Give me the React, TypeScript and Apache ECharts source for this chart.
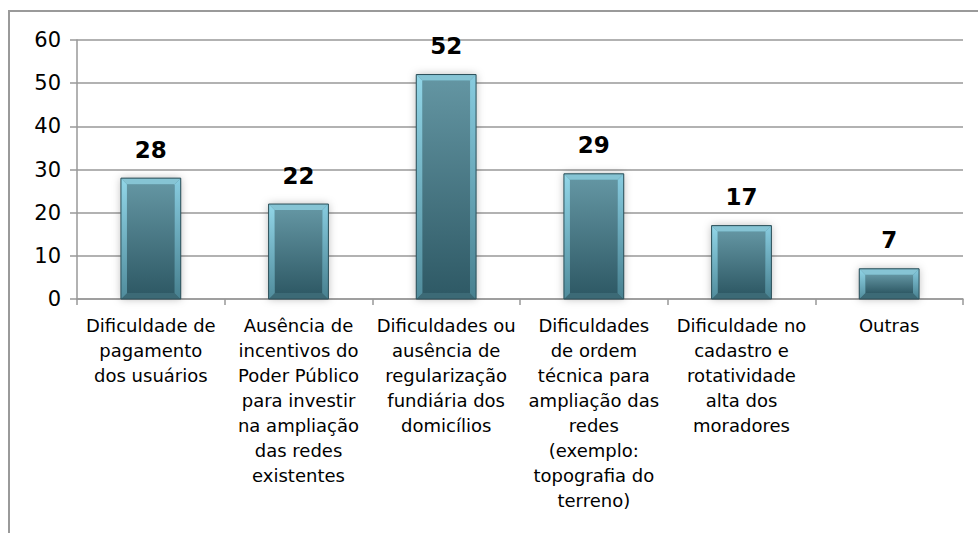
import React, { useEffect, useRef } from "react";
import * as echarts from "echarts";

const categories: string[] = [
  "Dificuldade de\npagamento\ndos usuários",
  "Ausência de\nincentivos do\nPoder Público\npara investir\nna ampliação\ndas redes\nexistentes",
  "Dificuldades ou\nausência de\nregularização\nfundiária dos\ndomicílios",
  "Dificuldades\nde ordem\ntécnica para\nampliação das\nredes\n(exemplo:\ntopografia do\nterreno)",
  "Dificuldade no\ncadastro e\nrotatividade\nalta dos\nmoradores",
  "Outras",
];
const values: number[] = [28, 22, 52, 29, 17, 7];
const yMin = 0;
const yMax = 60;
const yStep = 10;

const FONT = "'DejaVu Sans', 'Noto Sans', sans-serif";

export default function App() {
  const ref = useRef<HTMLDivElement>(null);
  useEffect(() => {
    if (!ref.current) return;
    const chart = echarts.init(ref.current, null, { renderer: "svg" });
    const renderItem = (params: any, api: any) => {
      const idx = api.value(0);
      const val = api.value(1);
      const top = api.coord([idx, val]);
      const bot = api.coord([idx, 0]);
      const cw = api.size([1, 0])[0];
      const w = cw * 0.405;
      const x0 = top[0] - w / 2;
      const x1 = x0 + w;
      const y0 = top[1];
      const y1 = bot[1];
      const h = y1 - y0;
      const b = Math.min(6, h / 3);
      return {
        type: "group",
        children: [
          {
            type: "rect",
            shape: { x: x0, y: y0, width: w, height: h },
            style: {
              fill: "#4f8795",
              shadowBlur: 8,
              shadowColor: "rgba(0,0,0,0.28)",
              shadowOffsetX: 0,
              shadowOffsetY: 0,
            },
          },
          {
            type: "rect",
            shape: { x: x0 + b, y: y0 + b, width: w - 2 * b, height: h - 2 * b },
            style: {
              fill: new echarts.graphic.LinearGradient(0, 0, 0, 1, [
                { offset: 0, color: "#6395a2" },
                { offset: 1, color: "#2f5a66" },
              ]),
            },
          },
          {
            type: "polygon",
            shape: { points: [[x0, y0], [x1, y0], [x1 - b, y0 + b], [x0 + b, y0 + b]] },
            style: { fill: "#86c4d4" },
          },
          {
            type: "polygon",
            shape: { points: [[x0, y1], [x1, y1], [x1 - b, y1 - b], [x0 + b, y1 - b]] },
            style: { fill: "#3c6a76" },
          },
          {
            type: "polygon",
            shape: { points: [[x0, y0], [x0 + b, y0 + b], [x0 + b, y1 - b], [x0, y1]] },
            style: {
              fill: new echarts.graphic.LinearGradient(0, 0, 0, 1, [
                { offset: 0, color: "#92d6e8" },
                { offset: 1, color: "#508c9c" },
              ]),
            },
          },
          {
            type: "polygon",
            shape: { points: [[x1, y0], [x1 - b, y0 + b], [x1 - b, y1 - b], [x1, y1]] },
            style: {
              fill: new echarts.graphic.LinearGradient(0, 0, 0, 1, [
                { offset: 0, color: "#88cce0" },
                { offset: 1, color: "#47808f" },
              ]),
            },
          },
          {
            type: "rect",
            shape: { x: x0, y: y0, width: w, height: h },
            style: { fill: "none", stroke: "#2c4f58", lineWidth: 1 },
          },
          {
            type: "text",
            x: top[0],
            y: y0 - 17,
            style: {
              text: String(val),
              fill: "#000",
              font: "bold 23px " + FONT,
              textAlign: "center",
              textVerticalAlign: "bottom",
            },
          },
        ],
      };
    };
    chart.setOption({
      animation: false,
      grid: { left: 67, top: 28, width: 886, height: 259, containLabel: false },
      xAxis: {
        type: "category",
        data: categories,
        axisLine: { show: true, lineStyle: { color: "#999", width: 1.5 } },
        axisTick: { show: true, length: 6, alignWithLabel: false, lineStyle: { color: "#999", width: 1.5 } },
        axisLabel: {
          interval: 0,
          hideOverlap: false,
          color: "#000",
          fontSize: 18,
          lineHeight: 25,
          fontFamily: FONT,
          margin: 14,
        },
      },
      yAxis: {
        type: "value",
        min: yMin,
        max: yMax,
        interval: yStep,
        axisLine: { show: true, lineStyle: { color: "#999", width: 1.5 } },
        axisTick: { show: true, length: 7, lineStyle: { color: "#999", width: 1.5 } },
        splitLine: { show: true, lineStyle: { color: "#999", width: 1.5 } },
        axisLabel: { color: "#000", fontSize: 21, fontFamily: FONT, margin: 16 },
      },
      series: [
        {
          type: "custom",
          renderItem,
          data: values.map((v, i) => [i, v]),
          encode: { x: 0, y: 1 },
        },
      ],
    });
    return () => chart.dispose();
  }, []);
  return (
    <div style={{ position: "fixed", left: 0, top: 0, width: 978, height: 533, overflow: "hidden", background: "#fff" }}>
      <div
        style={{
          position: "absolute",
          left: 8,
          top: 10,
          width: 1000,
          height: 600,
          border: "2px solid #9a9a9a",
          boxSizing: "border-box",
        }}
      >
        <div ref={ref} style={{ position: "absolute", left: 0, top: 0, width: 966, height: 519 }} />
      </div>
    </div>
  );
}
